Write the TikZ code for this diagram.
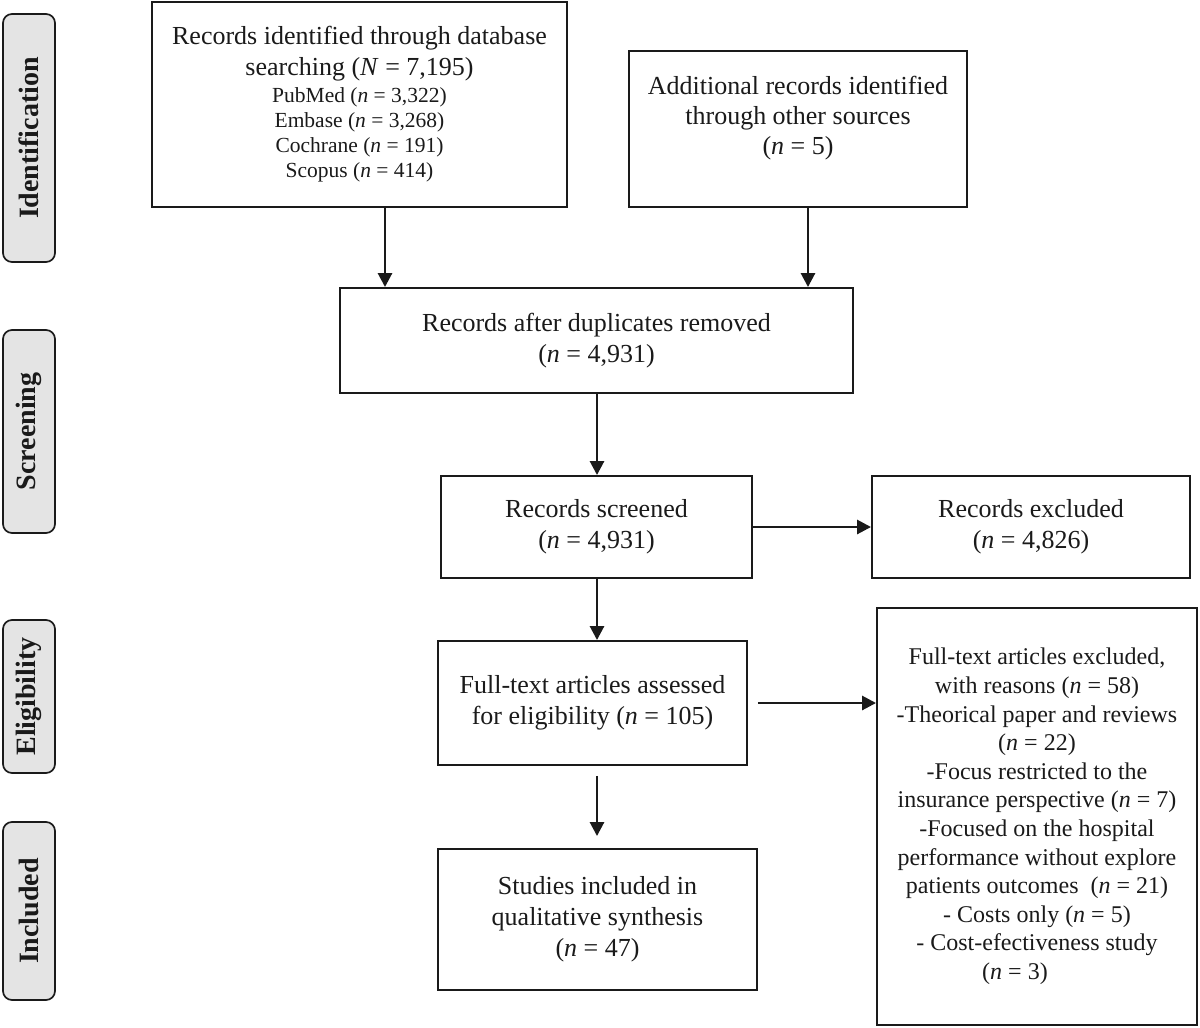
\documentclass[tikz,border=0pt]{standalone}
\usepackage{fontspec}
\setmainfont{Liberation Serif}
\usetikzlibrary{arrows.meta}
\definecolor{ink}{HTML}{1A1A1A}
\definecolor{sidefill}{HTML}{E4E4E4}
\newcommand\BigTxt{\fontsize{26}{31}\selectfont}
\begin{document}
\begin{tikzpicture}[x=1pt,y=-1pt,
  box/.style={draw=ink, line width=1.9pt, align=center, inner sep=0pt,
              font=\fontsize{26}{31}\selectfont, text=ink},
  txt/.style={align=center, inner sep=0pt, text=ink, font=\fontsize{26}{30}\selectfont},
  side/.style={draw=ink, line width=1.7pt, fill=sidefill, rounded corners=9pt,
               rotate=90, inner sep=0pt, minimum height=52pt,
               font=\fontsize{28}{32}\bfseries\selectfont, text=ink},
  arr/.style={draw=ink, line width=2.8pt, -{Triangle[length=14pt,width=14pt]}}]
\useasboundingbox (0,0) rectangle (1200,1028);

% side labels
\node[side, minimum width=248pt] (sid) at (29,138) {Identification};
\node[side, minimum width=203pt] (sscr) at (29,431.5) {Screening};
\node[side, minimum width=153pt] (selg) at (29,696.5) {Eligibility};
\node[side, minimum width=178pt] (sinc) at (29,911) {Included};

% boxes
\node[box, minimum width=415pt, minimum height=205pt,
      font=\fontsize{21.5}{25}\selectfont] (b1) at (359.5,104.5)
  {{\BigTxt Records identified through database}\\[6pt]
   {\BigTxt searching (\textit{N} = 7,195)}\\[2pt]
   PubMed (\textit{n} = 3,322)\\
   Embase (\textit{n} = 3,268)\\
   Cochrane (\textit{n} = 191)\\
   Scopus (\textit{n} = 414)};
\node[box, minimum width=338pt, minimum height=156pt] (b2) at (798,129) {};
\node[txt] (t2) at (798,118) {Additional records identified\\ through other sources\\ (\textit{n} = 5)};
\node[box, minimum width=513pt, minimum height=105pt] (b3) at (596.5,340.5)
  {Records after duplicates removed\\ (\textit{n} = 4,931)};
\node[box, minimum width=311pt, minimum height=102pt] (b4) at (596.5,527)
  {Records screened\\ (\textit{n} = 4,931)};
\node[box, minimum width=318pt, minimum height=102pt] (b5) at (1031,527)
  {Records excluded\\ (\textit{n} = 4,826)};
\node[box, minimum width=309pt, minimum height=124pt] (b6) at (592.5,703)
  {Full-text articles assessed\\ for eligibility (\textit{n} = 105)};
\node[box, minimum width=320pt, minimum height=417pt,
      font=\fontsize{24}{28.6}\selectfont] (b7) at (1037,816.5)
  {Full-text articles excluded,\\
   with reasons (\textit{n} = 58)\\
   -Theorical paper and reviews\\
   (\textit{n} = 22)\\
   -Focus restricted to the\\
   insurance perspective (\textit{n} = 7)\\
   -Focused on the hospital\\
   performance without explore\\
   patients outcomes\ \ (\textit{n} = 21)\\
   - Costs only (\textit{n} = 5)\\
   - Cost-efectiveness study\hspace*{44pt}\\
   (\textit{n} = 3)\hspace*{44pt}};
\node[box, minimum width=319pt, minimum height=141pt] (b8) at (597.5,919.5)
  {Studies included in\\ qualitative synthesis\\ (\textit{n} = 47)};

% connectors
\coordinate (xa) at (385,0);
\coordinate (xb) at (808,0);
\coordinate (xc) at (597,0);
\draw[arr] (b1.south -| xa) -- (b3.north -| xa);
\draw[arr] (b2.south -| xb) -- (b3.north -| xb);
\draw[arr] (b3.south -| xc) -- (b4.north -| xc);
\draw[arr] (b4.east) -- (b5.west);
\draw[arr] (b4.south -| xc) -- (b6.north -| xc);
\draw[arr] ([xshift=10pt]b6.east) -- (b7.west |- b6.east);
\draw[arr] ([yshift=-10pt]b6.south -| xc) -- ([yshift=12pt]b8.north -| xc);
\end{tikzpicture}
\end{document}
